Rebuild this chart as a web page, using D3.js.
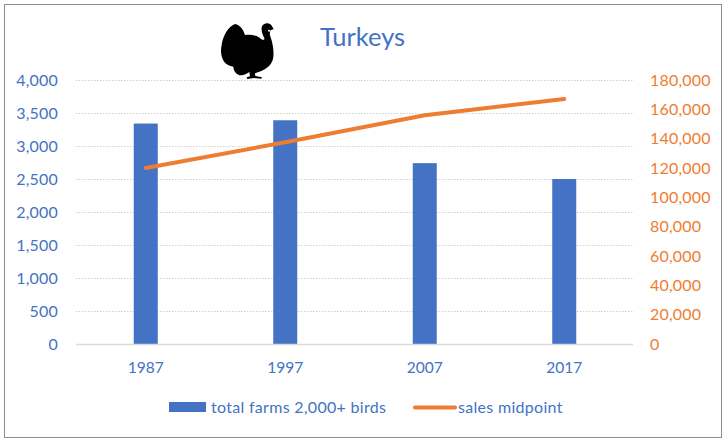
<!DOCTYPE html>
<html><head><meta charset="utf-8"><script src="https://cdn.jsdelivr.net/npm/d3@7"></script>
<style>html,body{margin:0;padding:0;background:#fff}svg{display:block}text{font-family:Lato,"Open Sans",sans-serif}</style></head>
<body><svg id="c" width="723" height="443"></svg>
<script>
const years=["1987","1997","2007","2017"];
const farms=[3340,3390,2740,2500];
const midpoint=[120000,137500,156000,167000];
const leftTicks=[0,500,1000,1500,2000,2500,3000,3500,4000];
const rightTicks=[0,20000,40000,60000,80000,100000,120000,140000,160000,180000];
const titleText="Turkeys";
const legendLabels=["total farms 2,000+ birds","sales midpoint"];
const BLUE="#4472C4",ORANGE="#ED7D31";
const svg=d3.select("#c");
svg.append("rect").attr("x",4.5).attr("y",4.5).attr("width",717).attr("height",433).attr("fill","#fff").attr("stroke","#8c8c8c").attr("stroke-width",1);
const x=d3.scaleBand().domain(years).range([76,634]);
const yL=d3.scaleLinear().domain([0,4000]).range([344,80]);
const yR=d3.scaleLinear().domain([0,180000]).range([344,80]);
const fmt=d3.format(",");
svg.append("g").selectAll("line").data(leftTicks.slice(1)).join("line")
 .attr("x1",76).attr("x2",633).attr("y1",d=>yL(d)+.5).attr("y2",d=>yL(d)+.5)
 .attr("stroke","#d0d0d0").attr("stroke-width",1).attr("stroke-dasharray","1.5 1.5");
svg.append("g").selectAll("rect").data(farms).join("rect")
 .attr("x",(d,i)=>x(years[i])+x.bandwidth()/2-12).attr("width",24)
 .attr("y",d=>yL(d)).attr("height",d=>yL(0)-yL(d)).attr("fill",BLUE);
svg.append("line").attr("x1",76).attr("x2",633).attr("y1",344.5).attr("y2",344.5).attr("stroke","#d9d9d9").attr("stroke-width",1.5);
svg.append("path").attr("d",d3.line().x((d,i)=>x(years[i])+x.bandwidth()/2).y(d=>yR(d))(midpoint))
 .attr("fill","none").attr("stroke",ORANGE).attr("stroke-width",4).attr("stroke-linecap","round").attr("stroke-linejoin","round");
const axL=svg.append("g").attr("transform","translate(58,0)").call(d3.axisLeft(yL).tickValues(leftTicks).tickFormat(fmt).tickSize(0).tickPadding(0));
const axR=svg.append("g").attr("transform","translate(650,0)").call(d3.axisRight(yR).tickValues(rightTicks).tickFormat(fmt).tickSize(0).tickPadding(0));
const axB=svg.append("g").attr("transform","translate(0,368)").call(d3.axisBottom(x).tickSize(0).tickPadding(0));
axL.select(".domain").remove();axR.select(".domain").remove();axB.select(".domain").remove();
axL.selectAll("text").attr("fill",BLUE).style("font-size","16px").style("letter-spacing","0.2px");
axR.selectAll("text").attr("fill",ORANGE).style("font-size","16px").style("letter-spacing","0.2px");
axB.selectAll("text").attr("fill",BLUE).attr("dy",".32em").style("font-size","15.5px");
svg.append("text").attr("x",362.5).attr("y",46).attr("text-anchor","middle").attr("fill",BLUE).style("font-size","25.5px").text(titleText);
const g=svg.append("g").attr("transform","translate(200,10) scale(0.3333)");
g.append("path").attr("fill","#000").attr("d","M65 105C68 80 85 48 105 42C120 45 130 58 135 75C150 72 170 75 182 86C190 92 194 90 193 84C188 75 184 66 185 52C188 42 200 37 210 42C216 46 218 52 221 58L212 60C209 66 208 72 212 82C218 100 222 120 220 140C218 160 205 172 190 180C180 185 170 188 165 190L166 198L186 202L184 206L162 204L142 207L140 202L150 199L148 186C138 194 125 198 115 194C106 190 100 180 100 170C85 168 72 160 67 145C62 130 62 118 65 105Z");
g.append("circle").attr("cx",207).attr("cy",62).attr("r",3).attr("fill","#fff");
svg.append("rect").attr("x",169).attr("y",402).attr("width",37).attr("height",10).attr("fill",BLUE);
svg.append("line").attr("x1",415).attr("x2",455).attr("y1",407.5).attr("y2",407.5).attr("stroke",ORANGE).attr("stroke-width",4).attr("stroke-linecap","round");
svg.selectAll(".lg").data(legendLabels).join("text").attr("class","lg")
 .attr("x",(d,i)=>[211,458][i]).attr("y",413).attr("fill",BLUE).style("font-size","16px").style("letter-spacing","0.3px").text(d=>d);
</script></body></html>
